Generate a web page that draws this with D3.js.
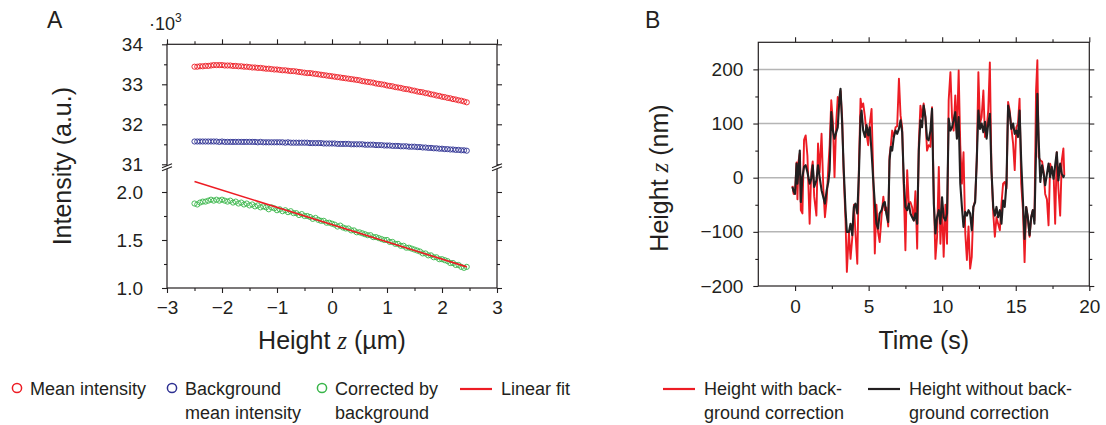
<!DOCTYPE html>
<html><head><meta charset="utf-8">
<script src="https://cdn.jsdelivr.net/npm/d3@7"></script>
<style>
body{margin:0;background:#fff}
svg{display:block}
text{font-family:"Liberation Sans",Arial,Helvetica,sans-serif;fill:#231f20}
</style>
</head><body>
<svg id="c" width="1106" height="425"></svg>
<script>
// ---------- Panel A data (intensity in units of 10^3 a.u.) ----------
const heightZ = [-2.5,-2.45,-2.4,-2.35,-2.3,-2.25,-2.2,-2.15,-2.1,-2.05,-2,-1.95,-1.9,-1.85,-1.8,-1.75,-1.7,-1.65,-1.6,-1.55,-1.5,-1.45,-1.4,-1.35,-1.3,-1.25,-1.2,-1.15,-1.1,-1.05,-1,-0.95,-0.9,-0.85,-0.8,-0.75,-0.7,-0.65,-0.6,-0.55,-0.5,-0.45,-0.4,-0.35,-0.3,-0.25,-0.2,-0.15,-0.1,-0.05,0,0.05,0.1,0.15,0.2,0.25,0.3,0.35,0.4,0.45,0.5,0.55,0.6,0.65,0.7,0.75,0.8,0.85,0.9,0.95,1,1.05,1.1,1.15,1.2,1.25,1.3,1.35,1.4,1.45,1.5,1.55,1.6,1.65,1.7,1.75,1.8,1.85,1.9,1.95,2,2.05,2.1,2.15,2.2,2.25,2.3,2.35,2.4,2.45];
const meanIntensity = [33.44,33.44,33.45,33.45,33.46,33.46,33.47,33.48,33.48,33.48,
33.48,33.47,33.47,33.47,33.46,33.46,33.45,33.45,33.44,33.44,
33.43,33.42,33.42,33.41,33.41,33.40,33.39,33.39,33.38,33.37,
33.37,33.36,33.35,33.35,33.34,33.33,33.33,33.32,33.31,33.30,
33.29,33.28,33.28,33.27,33.26,33.25,33.24,33.23,33.22,33.21,
33.20,33.19,33.18,33.17,33.16,33.15,33.14,33.13,33.12,33.11,
33.10,33.08,33.07,33.06,33.05,33.04,33.02,33.01,33.00,32.99,
32.97,32.96,32.95,32.93,32.92,32.91,32.89,32.88,32.87,32.85,
32.84,32.82,32.81,32.80,32.78,32.77,32.75,32.74,32.72,32.71,
32.69,32.68,32.66,32.65,32.63,32.62,32.60,32.59,32.57,32.55];
const backgroundIntensity = [31.57,31.57,31.57,31.57,31.57,31.57,31.57,31.57,31.57,31.56,31.57,31.56,31.56,31.56,31.56,31.56,31.56,31.56,31.56,31.56,31.56,
31.56,31.56,31.55,31.56,31.55,31.55,31.55,31.55,31.55,31.55,31.55,31.55,31.54,31.55,31.54,31.54,31.54,31.54,31.54,31.54,
31.54,31.53,31.53,31.53,31.53,31.53,31.52,31.52,31.52,31.52,31.52,31.51,31.51,31.51,31.51,31.51,31.50,31.50,31.50,31.50,
31.50,31.49,31.49,31.49,31.49,31.48,31.48,31.48,31.47,31.47,31.47,31.46,31.46,31.46,31.45,31.45,31.45,31.44,31.44,31.44,
31.43,31.43,31.42,31.42,31.41,31.41,31.40,31.40,31.39,31.39,31.38,31.38,31.37,31.37,31.36,31.36,31.35,31.35,31.34];
const correctedIntensity = [1.88,1.87,1.89,1.90,1.90,1.91,1.92,1.91,1.92,1.91,
1.92,1.91,1.90,1.91,1.89,1.90,1.88,1.89,1.87,1.88,
1.86,1.87,1.85,1.86,1.84,1.85,1.84,1.82,1.84,1.83,
1.81,1.82,1.80,1.81,1.79,1.80,1.78,1.78,1.76,1.77,
1.75,1.75,1.74,1.72,1.73,1.71,1.70,1.70,1.68,1.68,
1.67,1.66,1.64,1.65,1.63,1.62,1.62,1.60,1.60,1.58,
1.58,1.57,1.56,1.55,1.55,1.53,1.53,1.52,1.51,1.50,
1.50,1.48,1.48,1.46,1.46,1.44,1.44,1.42,1.42,1.41,
1.40,1.39,1.38,1.36,1.36,1.34,1.34,1.32,1.32,1.30,
1.30,1.29,1.28,1.26,1.26,1.24,1.24,1.22,1.21,1.22];
const fitZ = [-2.5, 2.45];
const fitIntensity = [2.11, 1.22];

const xTicksA = [-3,-2,-1,0,1,2,3];
const xMinorA = [-2.5,-1.5,-0.5,0.5,1.5,2.5];
const yTicksTop = [31,32,33,34];
const yMinorTop = [31.5,32.5,33.5];
const yTicksBot = [1.0,1.5,2.0];
const yMinorBot = [1.25,1.75];

// ---------- Panel B data ----------
const timeS = [-0.18,-0.1,0,0.1,0.16,0.23,0.32,0.39,0.5,0.61,
0.72,0.84,0.99,1.1,1.2,1.3,1.45,1.56,1.67,1.8,
1.92,2.03,2.15,2.26,2.35,2.46,2.57,2.68,2.8,2.9,
3.02,3.09,3.2,3.3,3.43,3.52,3.66,3.77,3.89,4.0,
4.1,4.23,4.34,4.45,4.52,4.63,4.75,4.86,4.97,5.08,
5.2,5.3,5.42,5.53,5.64,5.75,5.88,6.0,6.1,6.2,
6.33,6.42,6.51,6.6,6.71,6.83,6.94,7.06,7.17,7.28,
7.4,7.5,7.62,7.73,7.84,7.96,8.07,8.18,8.3,8.41,
8.52,8.63,8.74,8.86,8.97,9.08,9.2,9.31,9.43,9.54,
9.65,9.77,9.88,9.99,10.1,10.22,10.33,10.44,10.56,10.67,
10.78,10.89,11.0,11.12,11.23,11.34,11.45,11.57,11.68,11.79,
11.9,12.01,12.12,12.24,12.35,12.46,12.57,12.68,12.8,12.91,
13.02,13.13,13.24,13.35,13.47,13.58,13.69,13.8,13.92,14.03,
14.14,14.25,14.37,14.48,14.59,14.7,14.82,14.93,15.04,15.15,
15.26,15.37,15.49,15.6,15.71,15.82,15.94,16.05,16.16,16.27,
16.38,16.47,16.56,16.67,16.79,16.9,17.0,17.12,17.23,17.34,
17.45,17.57,17.68,17.79,17.9,18.02,18.13,18.24,18.3];
const heightWithBg = [-15,-30,-25,28,-40,30,45,-60,-66,70,
78,40,-85,10,30,-35,-70,63,10,81,
-20,-73,-40,20,60,143,103,1,103,149,
140,160,110,10,-80,-174,-100,-150,-110,-50,
-100,-159,20,146,130,137,112,80,60,100,
127,20,-140,-50,-100,-119,-70,-35,-60,-55,
-90,40,60,87,75,93,95,183,115,93,
-30,-134,14,-48,-45,-55,-79,-25,-131,63,
133,112,137,110,50,60,57,130,-30,-150,
-110,20,-122,-50,-146,-50,-122,143,195,112,
87,152,81,198,60,-11,47,-103,-152,-90,
-168,-146,-54,-42,32,195,100,112,161,75,
90,124,213,14,-66,-109,-73,-85,-97,-48,
-11,-8,-20,140,124,93,63,14,93,100,
146,-11,-60,-156,-54,-73,-109,-73,-60,-79,
161,217,38,32,30,10,-30,-40,-88,26,
13,10,-85,47,-20,-70,32,54,5];
const heightWithoutBg = [-17,-25,-30,26,-11,14,50,-45,1,20,
23,10,-11,-2,23,-17,-5,23,1,-23,
-36,-48,-23,-8,14,121,87,72,84,93,
149,164,100,20,-60,-100,-100,-85,-106,-54,
-48,-66,7,112,124,87,75,97,78,93,
47,1,-48,-85,-94,-66,-60,-48,-45,-66,
-82,32,57,50,75,87,81,90,106,84,
-11,-54,-60,-48,-66,-73,-79,-66,-85,50,
106,93,133,112,72,69,87,127,-48,-103,
-73,-60,-85,-36,-73,-79,-66,109,87,93,
106,121,72,112,-11,-54,-91,-63,-70,-60,
-66,-97,-54,-45,32,124,90,100,84,103,
72,100,118,14,-54,-70,-54,-73,-60,-85,
-42,-54,-11,133,118,90,100,81,87,75,
124,32,-42,-113,-54,-73,-106,-73,-60,-85,
50,155,69,-8,23,7,-14,7,26,1,
20,-2,23,47,-5,26,7,1,5];

const xTicksB = [0,5,10,15,20];
const xMinorB = [2.5,7.5,12.5,17.5];
const yTicksB = [-200,-100,0,100,200];
const yMinorB = [-150,-50,50,150];

// ---------- styling ----------
const INK = "#231f20";
const RED = "#ed1c24", BLUE = "#2e3192", GREEN = "#39b54a";
const svg = d3.select("#c");
const fmtInt = d3.format("d");

function styleAxis(g, fs){
  g.select(".domain").remove();
  g.selectAll(".tick line").attr("stroke", INK).attr("stroke-width", 1.1);
  g.selectAll(".tick text").attr("fill", INK).style("font-size", fs + "px");
}
function axis(gen, scale, ticks, size, pad, fmt, labels, x, y){
  let a = gen(scale).tickValues(ticks).tickSize(size).tickSizeOuter(0).tickPadding(pad);
  a = a.tickFormat(labels ? (fmt || fmtInt) : "");
  const g = svg.append("g").attr("transform", `translate(${x},${y})`).call(a);
  styleAxis(g, 19);
  return g;
}

// ================= PANEL A =================
const xA = d3.scaleLinear([-3, 3], [167, 497]);
const yTop = d3.scaleLinear([31, 34], [164.3, 44.3]);
const yBot = d3.scaleLinear([1.0, 2.25], [288, 168]);
const AL = xA.range()[0], AR = xA.range()[1], AT = yTop.range()[1], AB = yBot.range()[0];

// data
const gA = svg.append("g");
gA.append("g").selectAll("circle").data(heightZ).join("circle")
  .attr("cx", d => xA(d)).attr("cy", (d,i) => yTop(meanIntensity[i])).attr("r", 2.6)
  .attr("fill", "none").attr("stroke", RED).attr("stroke-width", 0.9);
gA.append("g").selectAll("circle").data(heightZ).join("circle")
  .attr("cx", d => xA(d)).attr("cy", (d,i) => yTop(backgroundIntensity[i])).attr("r", 2.6)
  .attr("fill", "none").attr("stroke", BLUE).attr("stroke-width", 0.9);
gA.append("g").selectAll("circle").data(heightZ).join("circle")
  .attr("cx", d => xA(d)).attr("cy", (d,i) => yBot(correctedIntensity[i])).attr("r", 2.6)
  .attr("fill", "none").attr("stroke", GREEN).attr("stroke-width", 0.9);
gA.append("path")
  .attr("d", d3.line().x(d => xA(d)).y((d,i) => yBot(fitIntensity[i]))(fitZ))
  .attr("fill", "none").attr("stroke", RED).attr("stroke-width", 1.6);

// frame
svg.append("rect").attr("x", AL).attr("y", AT).attr("width", AR-AL).attr("height", AB-AT)
  .attr("fill", "none").attr("stroke", INK).attr("stroke-width", 1.2);

// axes A
axis(d3.axisBottom, xA, xTicksA, 5, 7.5, null, true, 0, AB);
axis(d3.axisBottom, xA, xMinorA, 3, 0, null, false, 0, AB);
axis(d3.axisTop, xA, xTicksA, 5, 0, null, false, 0, AT);
axis(d3.axisTop, xA, xMinorA, 3, 0, null, false, 0, AT);
axis(d3.axisLeft, yTop, yTicksTop, 5, 19, null, true, AL, 0);
axis(d3.axisLeft, yTop, yMinorTop, 3, 0, null, false, AL, 0);
axis(d3.axisLeft, yBot, yTicksBot, 5, 19, d3.format(".1f"), true, AL, 0);
axis(d3.axisLeft, yBot, yMinorBot, 3, 0, null, false, AL, 0);
axis(d3.axisRight, yTop, yTicksTop, 5, 0, null, false, AR, 0);
axis(d3.axisRight, yTop, yMinorTop, 3, 0, null, false, AR, 0);
axis(d3.axisRight, yBot, yTicksBot, 5, 0, null, false, AR, 0);
axis(d3.axisRight, yBot, yMinorBot, 3, 0, null, false, AR, 0);

// axis breaks
[AL, AR].forEach(x => {
  const y0 = (yTop.range()[0] + yBot.range()[1]) / 2;
  const b = svg.append("g");
  b.append("polygon")
    .attr("points", `${x-5},${y0+1.5} ${x+5},${y0-2.5} ${x+5},${y0+0.5} ${x-5},${y0+4.5}`)
    .attr("fill", "#fff");
  b.append("line").attr("x1", x-5).attr("y1", y0+1.5).attr("x2", x+5).attr("y2", y0-2.5)
    .attr("stroke", INK).attr("stroke-width", 1.1);
  b.append("line").attr("x1", x-5).attr("y1", y0+4.5).attr("x2", x+5).attr("y2", y0+0.5)
    .attr("stroke", INK).attr("stroke-width", 1.1);
});

// labels A
svg.append("text").attr("x", 47).attr("y", 28).style("font-size", "23px").text("A");
const exp = svg.append("text").attr("x", 149).attr("y", 29.5).style("font-size", "18px");
exp.append("tspan").text("·10");
exp.append("tspan").attr("dy", -8).style("font-size", "12px").text("3");
const xtA = svg.append("text").attr("x", (AL+AR)/2).attr("y", 349).attr("text-anchor", "middle").style("font-size", "25px");
xtA.append("tspan").text("Height ");
xtA.append("tspan").style("font-family", "'Liberation Serif',serif").style("font-style", "italic").text("z");
xtA.append("tspan").text(" (µm)");
svg.append("text").attr("transform", `translate(71,${(AT+AB)/2}) rotate(-90)`)
  .attr("text-anchor", "middle").style("font-size", "25px").text("Intensity (a.u.)");

// ================= PANEL B =================
const xB = d3.scaleLinear([-2.5, 20], [758.3, 1089.3]);
const yB = d3.scaleLinear([-200, 250], [286, 42.3]);
const BL = xB.range()[0], BR = xB.range()[1], BT = yB.range()[1], BB = yB.range()[0];

svg.append("g").selectAll("line").data(yTicksB.slice(1)).join("line")
  .attr("x1", BL).attr("x2", BR).attr("y1", d => yB(d)).attr("y2", d => yB(d))
  .attr("stroke", "#b5b5b5").attr("stroke-width", 1.5);

const lineB = vals => d3.line().x(d => xB(d)).y((d,i) => yB(vals[i]))(timeS);
svg.append("path").attr("d", lineB(heightWithBg)).attr("fill", "none")
  .attr("stroke", RED).attr("stroke-width", 1.9).attr("stroke-linejoin", "round");
svg.append("path").attr("d", lineB(heightWithoutBg)).attr("fill", "none")
  .attr("stroke", INK).attr("stroke-width", 2.1).attr("stroke-linejoin", "round");

svg.append("rect").attr("x", BL).attr("y", BT).attr("width", BR-BL).attr("height", BB-BT)
  .attr("fill", "none").attr("stroke", INK).attr("stroke-width", 1.2);

axis(d3.axisBottom, xB, xTicksB, 5, 9, null, true, 0, BB);
axis(d3.axisBottom, xB, xMinorB, 3, 0, null, false, 0, BB);
axis(d3.axisTop, xB, xTicksB, 5, 0, null, false, 0, BT);
axis(d3.axisTop, xB, xMinorB, 3, 0, null, false, 0, BT);
axis(d3.axisLeft, yB, yTicksB, 5, 10, null, true, BL, 0);
axis(d3.axisLeft, yB, yMinorB, 3, 0, null, false, BL, 0);
axis(d3.axisRight, yB, yTicksB, 5, 0, null, false, BR, 0);
axis(d3.axisRight, yB, yMinorB, 3, 0, null, false, BR, 0);

svg.append("text").attr("x", 645).attr("y", 28).style("font-size", "23px").text("B");
svg.append("text").attr("x", (BL+BR)/2).attr("y", 349).attr("text-anchor", "middle")
  .style("font-size", "25px").text("Time (s)");
const ytB = svg.append("text").attr("transform", `translate(668,178) rotate(-90)`)
  .attr("text-anchor", "middle").style("font-size", "25px");
ytB.append("tspan").text("Height ");
ytB.append("tspan").style("font-family", "'Liberation Serif',serif").style("font-style", "italic").text("z");
ytB.append("tspan").text(" (nm)");

// ================= LEGEND =================
const legendItems = [
  {type:"circle", color:RED,   x:17,  lines:["Mean intensity"]},
  {type:"circle", color:BLUE,  x:172, lines:["Background","mean intensity"]},
  {type:"circle", color:GREEN, x:322, lines:["Corrected by","background"]},
  {type:"line",   color:RED,   x:460, lines:["Linear fit"]},
  {type:"line",   color:RED,   x:663, lines:["Height with back-","ground correction"]},
  {type:"line",   color:INK,   x:868, lines:["Height without back-","ground correction"]}
];
const lg = svg.append("g");
legendItems.forEach(it => {
  if (it.type === "circle") {
    lg.append("circle").attr("cx", it.x).attr("cy", 388).attr("r", 4.6)
      .attr("fill", "none").attr("stroke", it.color).attr("stroke-width", 1.5);
  } else {
    lg.append("line").attr("x1", it.x).attr("x2", it.x + 32).attr("y1", 389).attr("y2", 389)
      .attr("stroke", it.color).attr("stroke-width", 2.2);
  }
  const tx = it.type === "circle" ? it.x + 13 : it.x + 41;
  it.lines.forEach((s, k) => {
    lg.append("text").attr("x", tx).attr("y", 394.5 + k * 24).style("font-size", "18px").text(s);
  });
});
</script>
</body></html>
